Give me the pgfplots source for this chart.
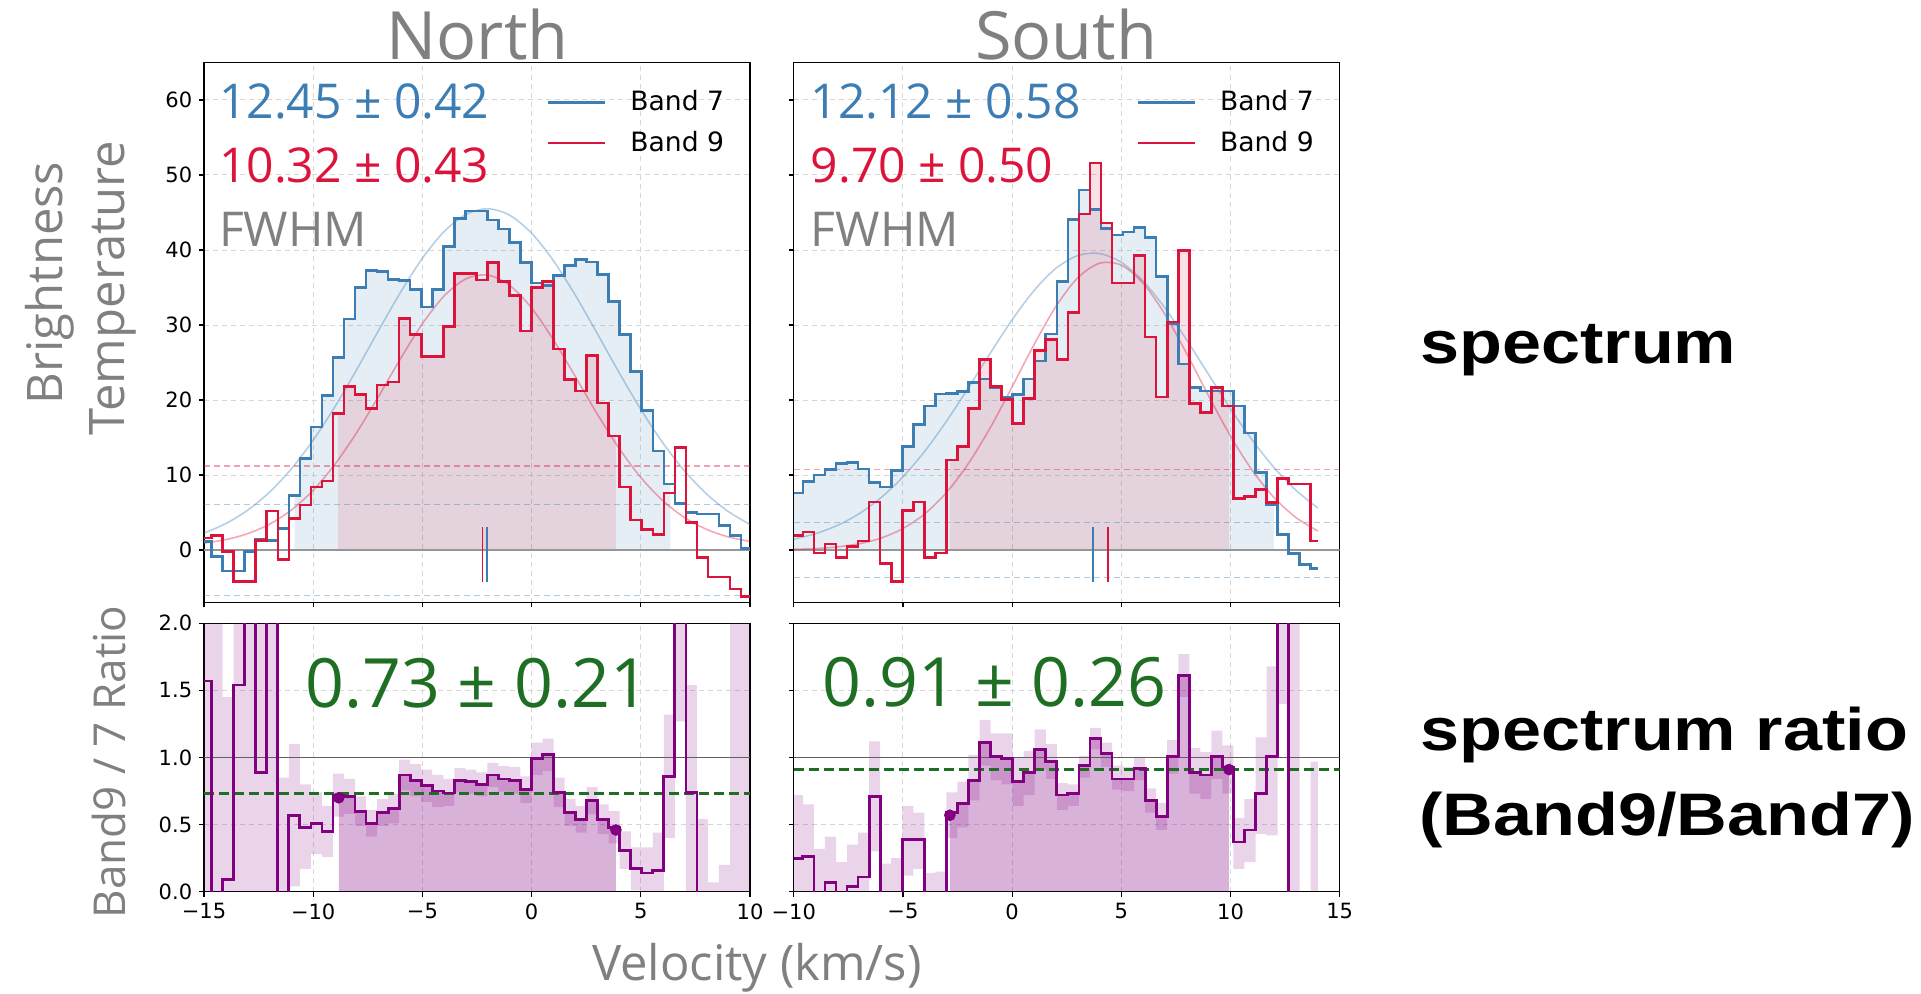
\documentclass[border=0pt]{standalone}
\usepackage{fontspec}
\setmainfont{DejaVu Sans}
\newfontfamily\osans{Open Sans}
\newfontfamily\lsans{Liberation Sans}
\usepackage{pgfplots}
\pgfplotsset{compat=1.18}
\usepackage{pgfplotstable}
\usepgfplotslibrary{fillbetween}

\definecolor{c7}{RGB}{60,125,180}
\definecolor{c9}{RGB}{220,20,60}
\definecolor{cp}{RGB}{128,0,128}
\definecolor{cg}{RGB}{30,110,35}
\definecolor{tgray}{RGB}{128,128,128}
\definecolor{gridc}{RGB}{215,215,215}
\definecolor{zgray}{RGB}{150,150,150}
\definecolor{onegray}{RGB}{95,95,95}

\pgfplotstableread{
x B R Q lo hi
-15.0 1.1 1.6 1.57 -1 3
-14.65 -0.9 1.9 -1 -1 3
-14.145 -2.8 -0.2 0.09 -1.2 1.45
-13.64 -2.8 -4.2 1.54 -1 3
-13.135 -0.2 -4.2 3 -1 3
-12.63 1.4 1.25 0.89 -1 3
-12.125 1.3 5.2 3 -1 3
-11.62 2.9 -1.3 -1 -1.8 0.85
-11.115 7.3 4.2 0.57 0.04 1.10
-10.61 12.2 6.0 0.48 0.17 0.80
-10.105 16.4 8.4 0.51 0.28 0.74
-9.60 20.6 9.2 0.45 0.26 0.64
-9.095 25.7 18.2 0.72 0.56 0.88
-8.59 30.8 21.8 0.71 0.58 0.84
-8.085 35.0 20.7 0.60 0.49 0.71
-7.58 37.3 18.9 0.51 0.41 0.61
-7.075 37.1 22.0 0.59 0.49 0.69
-6.57 36.1 22.4 0.62 0.51 0.73
-6.065 35.9 30.9 0.87 0.755 0.985
-5.56 34.7 28.7 0.83 0.71 0.95
-5.055 32.4 25.8 0.79 0.67 0.91
-4.55 34.7 25.8 0.75 0.63 0.87
-4.045 40.5 29.8 0.735 0.64 0.84
-3.54 44.2 36.9 0.83 0.74 0.92
-3.035 45.2 36.9 0.82 0.73 0.91
-2.53 45.2 36.0 0.80 0.71 0.89
-2.025 44.0 38.3 0.87 0.78 0.96
-1.52 42.8 35.8 0.84 0.745 0.935
-1.015 41.0 33.9 0.83 0.73 0.93
-0.51 38.3 29.2 0.76 0.66 0.86
-0.005 35.6 35.0 0.99 0.87 1.11
0.50 35.3 35.8 1.02 0.90 1.14
1.005 36.6 26.8 0.74 0.63 0.85
1.51 37.9 22.7 0.59 0.49 0.69
2.015 38.7 21.2 0.54 0.44 0.64
2.52 38.4 25.9 0.68 0.58 0.78
3.025 36.7 19.6 0.54 0.43 0.65
3.53 33.1 15.2 0.48 0.36 0.60
4.035 28.7 8.4 0.31 0.17 0.45
4.54 23.8 4.0 0.17 0.01 0.33
5.045 18.6 2.7 0.14 -0.05 0.33
5.55 13.2 2.1 0.16 -0.12 0.44
6.055 8.8 7.6 0.86 0.40 1.32
6.56 6.2 13.7 3 1.27 3
7.065 5.0 3.7 0.74 -0.06 1.54
7.57 4.8 -1.0 -1 -0.94 0.54
8.075 4.8 -3.6 -1 -1.5 0.07
8.58 3.3 -3.6 -1 -2.4 0.2
9.085 1.9 -5.2 -1 -1 3
9.59 0.2 -6.2 -1 -1 3
10.0 0.2 -6.2 -1 -1 3
}\tabL

\pgfplotstableread{
x B R Q lo hi
-10.0 7.6 1.9 0.25 -0.22 0.72
-9.58 9.1 2.4 0.26 -0.13 0.65
-9.074 10.0 -0.4 -1 -0.40 0.32
-8.569 10.7 0.8 0.07 -0.26 0.41
-8.063 11.5 -1.0 -1 -0.40 0.22
-7.558 11.7 0.5 0.04 -0.27 0.35
-7.052 10.8 1.2 0.11 -0.22 0.44
-6.547 9.0 6.4 0.71 0.30 1.12
-6.041 8.4 -1.8 -1 -0.63 0.21
-5.536 10.6 -4.2 -1 -0.74 0.25
-5.030 13.8 5.3 0.39 0.12 0.64
-4.525 16.7 6.4 0.39 0.17 0.59
-4.019 19.2 -1.0 -1 -0.24 0.14
-3.514 20.8 -0.4 -1 -0.19 0.15
-3.008 20.9 12.0 0.59 0.40 0.74
-2.503 21.1 13.8 0.66 0.48 0.82
-1.997 22.3 18.9 0.83 0.68 1.02
-1.492 22.8 25.4 1.11 0.94 1.28
-0.986 21.7 21.8 1.01 0.83 1.18
-0.481 20.4 20.1 0.99 0.80 1.18
0.025 20.7 16.9 0.82 0.64 1.00
0.530 22.8 20.2 0.89 0.72 1.05
1.036 25.2 26.6 1.06 0.91 1.21
1.541 28.8 28.1 0.97 0.84 1.10
2.047 35.8 25.4 0.72 0.61 0.81
2.552 44.1 31.7 0.73 0.64 0.80
3.058 48.0 44.8 0.94 0.85 1.01
3.563 45.4 51.6 1.14 1.06 1.22
4.069 42.9 43.6 1.03 0.93 1.11
4.574 42.0 35.6 0.84 0.76 0.94
5.080 42.4 35.6 0.84 0.75 0.93
5.585 43.0 39.3 0.92 0.83 1.00
6.091 41.7 28.4 0.68 0.59 0.77
6.596 36.5 20.4 0.56 0.46 0.66
7.102 30.2 30.4 1.01 0.88 1.13
7.607 24.8 39.9 1.61 1.45 1.77
8.113 21.7 19.5 0.89 0.73 1.07
8.618 21.2 18.3 0.87 0.69 1.04
9.124 21.2 21.7 1.01 0.84 1.20
9.629 21.2 19.2 0.93 0.73 1.09
10.135 19.2 6.9 0.37 0.17 0.55
10.64 15.6 7.1 0.46 0.22 0.69
11.146 10.3 8.1 0.73 0.43 1.15
11.651 6.0 6.3 1.01 0.42 1.68
12.157 2.1 9.5 3 1.4 3
12.662 -0.5 8.8 -1 -1 3
13.168 -1.9 8.8 -1 -1 -1
13.673 -2.5 1.2 -1 -1.9 0.97
14.0 -2.5 1.2 -1 -1.9 0.97
}\tabR

\pgfplotsset{
  base/.style={
    scale only axis, anchor=south west, width=273pt,
    axis line style={line width=0.7pt, black},
    tick align=outside, major tick length=2.4pt,
    tick style={line width=0.6pt, black},
    tick pos=left,
    grid=major,
    major grid style={gridc, dash pattern=on 2.5pt off 2pt, line width=0.5pt},
    ticklabel style={font=\fontsize{10.5}{12}\selectfont},
    /pgf/number format/assume math mode=true,
  },
  leg/.style={
    legend style={draw=none, fill=none, at={(0.627,0.956)}, anchor=north west,
      font=\fontsize{13.3}{16}\selectfont, row sep=4.7pt, inner sep=0pt,
      /tikz/every odd column/.append style={column sep=10pt}},
    legend cell align=left,
    legend image code/.code={\draw[##1] (0pt,0pt) -- (28.5pt,0pt);},
  },
  sig/.style={line width=0.6pt, opacity=0.4, dash pattern=on 3pt off 2pt},
}

\begin{document}
\begin{tikzpicture}
\path (0,0) rectangle (960.5pt,496.5pt);

% ---------------- North spectrum ----------------
\begin{axis}[base, leg, at={(102pt,195.25pt)}, height=270pt,
  xmin=-15, xmax=10, ymin=-7, ymax=65,
  xtick={-15,-10,-5,0,5,10}, xticklabels={},
  ytick={0,10,20,30,40,50,60}]
\addlegendimage{c7, line width=1.3pt}\addlegendentry{Band 7}
\addlegendimage{c9, line width=1.3pt}\addlegendentry{Band 9}
\addplot[c7, sig] coordinates {(-15,6.1) (10,6.1)};
\addplot[c7, sig] coordinates {(-15,-6.1) (10,-6.1)};
\addplot[c9, sig] coordinates {(-15,11.2) (10,11.2)};
\addplot[draw=none, const plot, name path=b7L] table[x=x,y=B]{\tabL};
\addplot[draw=none, const plot, name path=b9L] table[x=x,y=R]{\tabL};
\addplot[draw=none, name path=zL] coordinates {(-15,0) (10,0)};
\addplot[fill=c7, fill opacity=0.13, draw=none] fill between[of=b7L and zL, soft clip={domain=-10.85:6.35}];
\addplot[fill=c9, fill opacity=0.13, draw=none] fill between[of=b9L and zL, soft clip={domain=-8.86:3.86}];
\addplot[zgray, line width=0.6pt] coordinates {(-15,0) (10,0)};
\addplot[c7, opacity=0.37, line width=0.8pt, smooth] coordinates {
(-15,2.26) (-14,3.52) (-13,5.31) (-12,7.71) (-11,10.82) (-10,14.65) (-9,19.13) (-8,24.10)
(-7,29.30) (-6,34.37) (-5,38.90) (-4,42.48) (-3,44.75) (-2,45.50) (-1,44.63) (0,42.24)
(1,38.57) (2,33.98) (3,28.89) (4,23.69) (5,18.75) (6,14.31) (7,10.55) (8,7.50) (9,5.14) (10,3.40)};
\addplot[c9, opacity=0.37, line width=0.8pt, smooth] coordinates {
(-15,0.92) (-14,1.39) (-13,2.18) (-12,3.44) (-11,5.33) (-10,7.97) (-9,11.45) (-8,15.70)
(-7,20.52) (-6,25.52) (-5,30.17) (-4,33.89) (-3,36.16) (-2,36.65) (-1,35.28) (0,32.26)
(1,28.02) (2,23.14) (3,18.16) (4,13.58) (5,9.67) (6,6.60) (7,4.33) (8,2.77) (9,1.75) (10,1.14)};
\addplot[c7, line width=1.3pt, const plot] table[x=x,y=B]{\tabL};
\addplot[c9, line width=1.3pt, const plot] table[x=x,y=R]{\tabL};
\addplot[c9, line width=0.8pt] coordinates {(-2.24,-4.2) (-2.24,3.1)};
\addplot[c7, line width=0.8pt] coordinates {(-2.04,-4.2) (-2.04,3.1)};
\end{axis}

% ---------------- South spectrum ----------------
\begin{axis}[base, leg, at={(396.85pt,195.25pt)}, height=270pt,
  xmin=-10, xmax=15, ymin=-7, ymax=65,
  xtick={-10,-5,0,5,10,15}, xticklabels={},
  ytick={0,10,20,30,40,50,60}, yticklabels={}]
\addlegendimage{c7, line width=1.3pt}\addlegendentry{Band 7}
\addlegendimage{c9, line width=1.3pt}\addlegendentry{Band 9}
\addplot[c7, sig] coordinates {(-10,3.7) (15,3.7)};
\addplot[c7, sig] coordinates {(-10,-3.7) (15,-3.7)};
\addplot[c9, sig] coordinates {(-10,10.7) (15,10.7)};
\addplot[draw=none, const plot, name path=b7R] table[x=x,y=B]{\tabR};
\addplot[draw=none, const plot, name path=b9R] table[x=x,y=R]{\tabR};
\addplot[draw=none, name path=zR] coordinates {(-10,0) (15,0)};
\addplot[fill=c7, fill opacity=0.13, draw=none] fill between[of=b7R and zR, soft clip={domain=-10:11.99}];
\addplot[fill=c9, fill opacity=0.13, draw=none] fill between[of=b9R and zR, soft clip={domain=-2.85:9.93}];
\addplot[zgray, line width=0.6pt] coordinates {(-10,0) (15,0)};
\addplot[c7, opacity=0.37, line width=0.8pt, smooth] coordinates {
(-10,1.44) (-9,2.18) (-8,3.28) (-7,4.85) (-6,6.98) (-5,9.75) (-4,13.17) (-3,17.19)
(-2,21.63) (-1,26.25) (0,30.69) (1,34.58) (2,37.54) (3,39.25) (4,39.53) (5,38.35)
(6,35.84) (7,32.26) (8,27.97) (9,23.38) (10,18.84) (11,14.63) (12,10.97) (13,7.96) (14,5.59)};
\addplot[c9, opacity=0.37, line width=0.8pt, smooth] coordinates {
(-10,0.09) (-9,0.19) (-8,0.42) (-7,0.84) (-6,1.59) (-5,2.86) (-4,4.82) (-3,7.68)
(-2,11.53) (-1,16.31) (0,21.76) (1,27.37) (2,32.45) (3,36.28) (4,38.23) (5,37.98)
(6,35.57) (7,31.42) (8,26.15) (9,20.53) (10,15.19) (11,10.59) (12,6.97) (13,4.32) (14,2.53)};
\addplot[c7, line width=1.3pt, const plot] table[x=x,y=B]{\tabR};
\addplot[c9, line width=1.3pt, const plot] table[x=x,y=R]{\tabR};
\addplot[c7, line width=0.8pt] coordinates {(3.69,-4.2) (3.69,3.1)};
\addplot[c9, line width=0.8pt] coordinates {(4.39,-4.2) (4.39,3.1)};
\end{axis}

% ---------------- North ratio ----------------
\begin{axis}[base, at={(102pt,50.65pt)}, height=134.2pt,
  xmin=-15, xmax=10, ymin=0, ymax=2,
  xtick={-15,-10,-5,0,5,10}, xticklabels={−15,−10,−5,0,5,10},
  ytick={0,0.5,1,1.5,2}, yticklabels={0.0,0.5,1.0,1.5,2.0}]
\addplot[draw=none, const plot, name path=loL] table[x=x,y=lo]{\tabL};
\addplot[draw=none, const plot, name path=hiL] table[x=x,y=hi]{\tabL};
\addplot[fill=cp, fill opacity=0.17, draw=none] fill between[of=hiL and loL];
\addplot[draw=none, const plot, name path=qL] table[x=x,y=Q]{\tabL};
\addplot[draw=none, name path=z2L] coordinates {(-15,0) (10,0)};
\addplot[fill=cp, fill opacity=0.3, draw=none] fill between[of=qL and z2L, soft clip={domain=-8.83:3.86}];
\addplot[onegray, line width=0.8pt] coordinates {(-15,1) (10,1)};
\addplot[cg, line width=1.3pt, dash pattern=on 5pt off 2.5pt] coordinates {(-15,0.73) (10,0.73)};
\addplot[cp, line width=1.4pt, const plot] table[x=x,y=Q]{\tabL};
\addplot[only marks, mark=*, cp, mark size=2.7pt] coordinates {(-8.83,0.70) (3.86,0.46)};
\end{axis}

% ---------------- South ratio ----------------
\begin{axis}[base, at={(396.85pt,50.65pt)}, height=134.2pt,
  xmin=-10, xmax=15, ymin=0, ymax=2,
  xtick={-10,-5,0,5,10,15}, xticklabels={−10,−5,0,5,10,15},
  ytick={0,0.5,1,1.5,2}, yticklabels={}]
\addplot[draw=none, const plot, name path=loR] table[x=x,y=lo]{\tabR};
\addplot[draw=none, const plot, name path=hiR] table[x=x,y=hi]{\tabR};
\addplot[fill=cp, fill opacity=0.17, draw=none] fill between[of=hiR and loR];
\addplot[draw=none, const plot, name path=qR] table[x=x,y=Q]{\tabR};
\addplot[draw=none, name path=z2R] coordinates {(-10,0) (15,0)};
\addplot[fill=cp, fill opacity=0.3, draw=none] fill between[of=qR and z2R, soft clip={domain=-2.85:9.93}];
\addplot[onegray, line width=0.8pt] coordinates {(-10,1) (15,1)};
\addplot[cg, line width=1.3pt, dash pattern=on 5pt off 2.5pt] coordinates {(-10,0.91) (15,0.91)};
\addplot[cp, line width=1.4pt, const plot] table[x=x,y=Q]{\tabR};
\addplot[only marks, mark=*, cp, mark size=2.7pt] coordinates {(-2.85,0.57) (9.93,0.91)};
\end{axis}

% ---------------- texts ----------------
\node[anchor=base, inner sep=0, text=tgray, font=\osans\fontsize{33.3}{40}\selectfont] at (238.7pt,466.85pt) {North};
\node[anchor=base, inner sep=0, text=tgray, font=\osans\fontsize{33.3}{40}\selectfont] at (533.1pt,466.85pt) {South};

\node[anchor=base west, inner sep=0, text=c7, font=\osans\fontsize{24}{29}\selectfont] at (109.4pt,437.35pt) {12.45 ± 0.42};
\node[anchor=base west, inner sep=0, text=c9, font=\osans\fontsize{24}{29}\selectfont] at (109.4pt,405.15pt) {10.32 ± 0.43};
\node[anchor=base west, inner sep=0, text=tgray, font=\osans\fontsize{24}{29}\selectfont] at (109.4pt,373.5pt) {FWHM};

\node[anchor=base west, inner sep=0, text=c7, font=\osans\fontsize{24}{29}\selectfont] at (405.2pt,437.35pt) {12.12 ± 0.58};
\node[anchor=base west, inner sep=0, text=c9, font=\osans\fontsize{24}{29}\selectfont] at (405.2pt,405.15pt) {9.70 ± 0.50};
\node[anchor=base west, inner sep=0, text=tgray, font=\osans\fontsize{24}{29}\selectfont] at (405.2pt,373.5pt) {FWHM};

\node[anchor=base west, inner sep=0, text=cg, font=\osans\fontsize{34}{40}\selectfont] at (152.5pt,142.85pt) {0.73 ± 0.21};
\node[anchor=base west, inner sep=0, text=cg, font=\osans\fontsize{34}{40}\selectfont] at (411.15pt,143.15pt) {0.91 ± 0.26};

\node[anchor=base, rotate=90, inner sep=0, text=tgray, font=\osans\fontsize{24.5}{29}\selectfont] at (31.25pt,355pt) {Brightness};
\node[anchor=base, rotate=90, inner sep=0, text=tgray, font=\osans\fontsize{24.5}{29}\selectfont] at (62.15pt,352.5pt) {Temperature};
\node[anchor=base, rotate=90, inner sep=0, text=tgray, font=\osans\fontsize{22}{26}\selectfont] at (62.5pt,115.5pt) {Band9 / 7 Ratio};
\node[anchor=base, inner sep=0, text=tgray, font=\osans\fontsize{24.5}{29}\selectfont] at (378.5pt,6.2pt) {Velocity (km/s)};

\node[anchor=base west, inner sep=0, font=\lsans\bfseries\fontsize{30}{36}\selectfont] at (710pt,315pt) {\scalebox{1.17}[1]{spectrum}};
\node[anchor=base west, inner sep=0, font=\lsans\bfseries\fontsize{30}{36}\selectfont] at (710pt,121.15pt) {\scalebox{1.17}[1]{spectrum ratio}};
\node[anchor=base west, inner sep=0, font=\lsans\bfseries\fontsize{30}{36}\selectfont] at (709.5pt,79pt) {\scalebox{1.17}[1]{(Band9/Band7)}};
\end{tikzpicture}
\end{document}
